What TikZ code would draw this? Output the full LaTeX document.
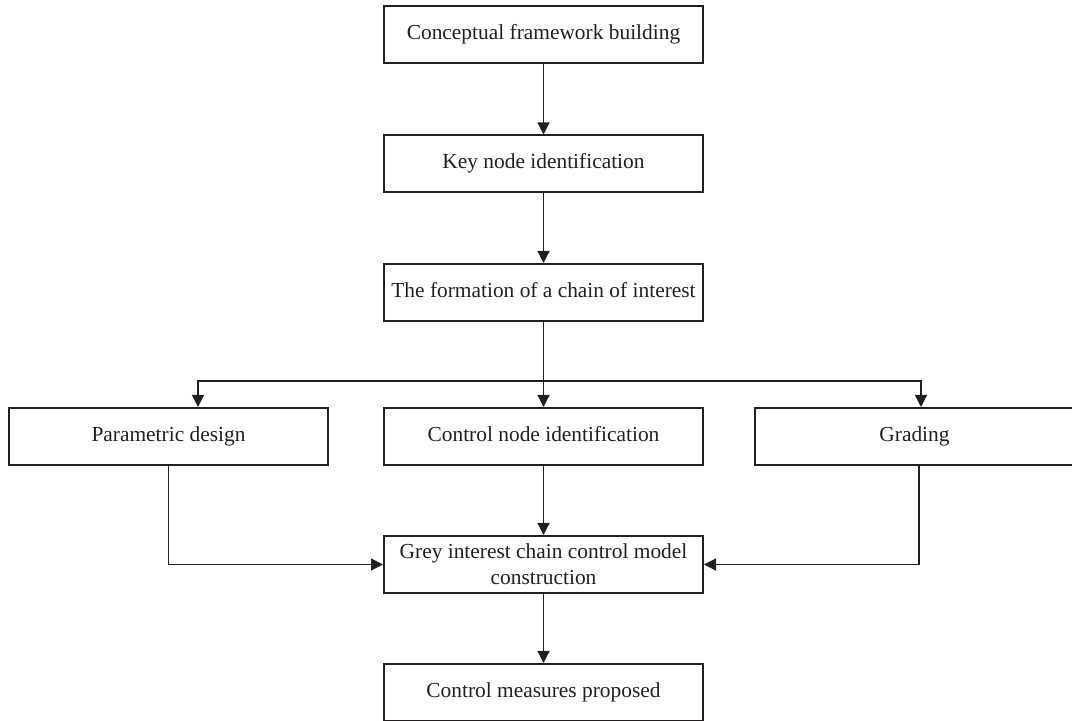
\documentclass[tikz,border=0pt]{standalone}
\usepackage{fontspec}
\setmainfont{Liberation Serif}
\usetikzlibrary{positioning,arrows.meta}
\definecolor{boxline}{HTML}{231F20}
\tikzset{
    every node/.style={font=\fontsize{10.7}{13}\selectfont},
    boxframe/.style={rectangle,draw=boxline,line width=1pt,minimum width=159.5pt,minimum height=28.5pt,inner sep=2pt,align=center,text=boxline},
    stepbox/.style={boxframe,text height=7.4pt,text depth=2.4pt},
    flow/.style={draw=boxline,line width=0.6pt,-{Triangle[length=6pt,width=6pt]}}
}
\begin{document}
\begin{tikzpicture}[x=0.5pt,y=-0.5pt]
\useasboundingbox (0,0) rectangle (1072,721);
\node[stepbox] (concept) at (543.5,35) {Conceptual framework building};
\node[stepbox] (keynode) at (543.5,164) {Key node identification};
\node[stepbox] (chain) at (543.5,292.5) {The formation of a chain of interest};
\node[stepbox] (param) at (168.5,436.5) {Parametric design};
\node[stepbox] (ctrlnode) at (543.5,436.5) {Control node identification};
\node[stepbox] (grading) at (914.5,436.5) {Grading};
\node[boxframe] (grey) at (543.5,564.5) {Grey interest chain control model\\construction};
\node[stepbox] (measures) at (543.5,692.5) {Control measures proposed};
\coordinate (split) at (543.5,381);
% main column
\draw[flow] (concept) -- (keynode);
\draw[flow] (keynode) -- (chain);
\draw[flow] (chain) -- (ctrlnode);
% branches
\draw[flow] (split) -| ([xshift=14.75pt]param.north);
\draw[flow] (split) -| ([xshift=3.25pt]grading.north);
\draw[flow] (param.south) |- (grey.west);
\draw[flow] ([xshift=2.25pt]grading.south) |- (grey.east);
\draw[flow] (ctrlnode) -- (grey);
\draw[flow] (grey) -- (measures);
\end{tikzpicture}
\end{document}
